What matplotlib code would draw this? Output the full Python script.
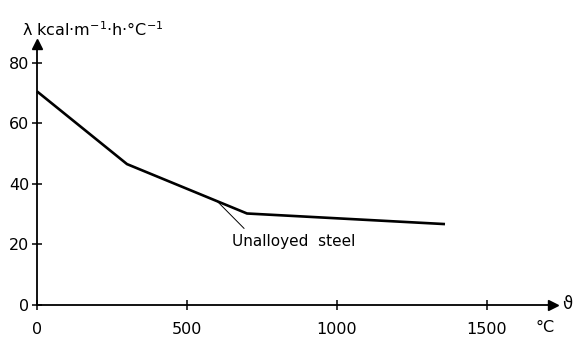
import matplotlib.pyplot as plt

# data
temp = [0, 300, 700, 1360]
lam = [70.5, 46.5, 30.2, 26.7]
xticks = [0, 500, 1000, 1500]
yticks = [0, 20, 40, 60, 80]

plt.rcParams['font.family'] = ['DejaVu Sans']

fig = plt.figure(figsize=(5.77, 3.39), dpi=100)
ax = fig.add_axes([0.0641, 0.1003, 0.8943, 0.7687])
ax.set_xlim(0, 1720)
ax.set_ylim(0, 86)

ax.plot(temp, lam, color='black', lw=1.9, solid_capstyle='butt', clip_on=False)

# pointer line to the label
ax.plot([600, 690], [34.3, 25.3], color='black', lw=0.7)
ax.text(650, 21, 'Unalloyed  steel', fontsize=11, ha='left', va='center')

for s in ['top', 'right']:
    ax.spines[s].set_visible(False)
for s in ['left', 'bottom']:
    ax.spines[s].set_linewidth(1.3)

# arrow heads
ax.plot(1, 0, '>', color='black', ms=7, transform=ax.transAxes, clip_on=False)
ax.plot(0, 1, '^', color='black', ms=7, transform=ax.transAxes, clip_on=False)

ax.set_xticks(xticks)
ax.set_yticks(yticks)
ax.tick_params(direction='inout', length=7, width=1.1, labelsize=11.5)
ax.tick_params(axis='x', pad=9)
ax.tick_params(axis='y', pad=2)

fig.text(545 / 577, 1 - 327 / 339, '°C', fontsize=11.5, ha='center', va='center')
fig.text(567 / 577, 1 - 304 / 339, 'ϑ', fontsize=12, ha='center', va='center')
fig.text(22 / 577, 1 - 30 / 339, 'λ kcal·m$^{-1}$·h·°C$^{-1}$', fontsize=11.5,
         ha='left', va='center')

fig.savefig('out.png', dpi=100)
